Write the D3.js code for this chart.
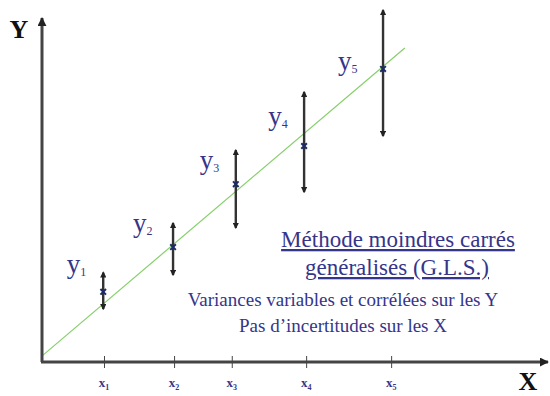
<html>
<head>
  <meta charset="utf-8">
  <title>Méthode moindres carrés généralisés</title>
  <style>
    body { margin: 0; background: #fff; }
    svg { display: block; }
  </style>
  <script src="https://cdnjs.cloudflare.com/ajax/libs/d3/7.8.5/d3.min.js"></script>
</head>
<body>
  <div id="chart"></div>
  <script>
    // data (arbitrary units, 0-100 on both axes)
    const tickValues = [12.25, 26.1, 37.5, 52.2, 69.0];
    const tickLabels = ["1", "2", "3", "4", "5"];
    const pointX = [12.1, 25.9, 38.3, 51.8, 67.4];
    const yCentre = [20.4, 33.4, 51.7, 62.8, 85.2];
    const yLow = [15.4, 25.3, 39.0, 49.4, 65.7];
    const yHigh = [26.0, 40.4, 61.6, 78.5, 102.3];
    const pointNames = ["1", "2", "3", "4", "5"];
    const labelX = [4.9, 18.0, 31.2, 44.7, 58.5];
    const labelY = [25.9, 37.8, 56.1, 68.9, 84.9];
    const fitX = [0.2, 71.7];
    const fitY = [2.0, 91.3];

    const width = 550, height = 396;
    const blue = '#35358a';
    const serif = '"Liberation Serif", "Times New Roman", serif';

    const x = d3.scaleLinear().domain([0, 100]).range([42, 548]);
    const y = d3.scaleLinear().domain([0, 100]).range([362, 18]);

    const svg = d3.select('#chart')
      .append('svg')
        .attr('width', width)
        .attr('height', height)
        .style('font-family', serif);

    // arrowheads
    const defs = svg.append('defs');
    defs.append('marker')
        .attr('id', 'axisArrow')
        .attr('viewBox', '0 0 10 10')
        .attr('refX', 9).attr('refY', 5)
        .attr('markerWidth', 3).attr('markerHeight', 3)
        .attr('orient', 'auto')
      .append('path')
        .attr('d', 'M0,0 L10,5 L0,10 z')
        .attr('fill', '#222');
    defs.append('marker')
        .attr('id', 'barArrow')
        .attr('viewBox', '0 0 10 10')
        .attr('refX', 8).attr('refY', 5)
        .attr('markerWidth', 2.6).attr('markerHeight', 2.6)
        .attr('orient', 'auto-start-reverse')
      .append('path')
        .attr('d', 'M0,0 L10,5 L0,10 z')
        .attr('fill', '#222');

    // fitted line
    svg.append('line')
      .attr('x1', x(fitX[0])).attr('y1', y(fitY[0]))
      .attr('x2', x(fitX[1])).attr('y2', y(fitY[1]))
      .attr('stroke', '#86cf6a')
      .attr('stroke-width', 1.2);

    // axes
    svg.append('line')
      .attr('x1', x(0)).attr('y1', y(0))
      .attr('x2', x(0)).attr('y2', y(100))
      .attr('stroke', '#444').attr('stroke-width', 3)
      .attr('marker-end', 'url(#axisArrow)');

    const xAxis = svg.append('g')
      .attr('transform', `translate(0,${y(0)})`)
      .call(d3.axisBottom(x).tickValues(tickValues).tickSize(6).tickFormat(''));
    xAxis.select('.domain').remove();
    xAxis.selectAll('.tick line')
      .attr('y1', -6).attr('y2', 6)
      .attr('stroke', '#444').attr('stroke-width', 1);

    svg.append('line')
      .attr('x1', x(0) - 1).attr('y1', y(0))
      .attr('x2', x(100)).attr('y2', y(0))
      .attr('stroke', '#444').attr('stroke-width', 3)
      .attr('marker-end', 'url(#axisArrow)');

    // tick labels x1..x5
    const tl = svg.selectAll('.xlab')
      .data(tickValues)
      .join('text')
        .attr('class', 'xlab')
        .attr('x', d => x(d))
        .attr('y', y(0) + 25)
        .attr('text-anchor', 'middle')
        .attr('fill', blue)
        .style('font-weight', 'bold')
        .style('font-size', '13px');
    tl.append('tspan').text('x');
    tl.append('tspan')
      .attr('dy', 3)
      .style('font-size', '8px')
      .text((d, i) => tickLabels[i]);

    // axis titles
    svg.append('text')
      .attr('x', 19).attr('y', 38)
      .attr('text-anchor', 'middle')
      .style('font-size', '26px').style('font-weight', 'bold')
      .attr('fill', '#111')
      .text('Y');
    svg.append('text')
      .attr('x', 528).attr('y', 390)
      .attr('text-anchor', 'middle')
      .style('font-size', '26px').style('font-weight', 'bold')
      .attr('fill', '#111')
      .text('X');

    // error bars
    svg.selectAll('.bar')
      .data(pointX)
      .join('line')
        .attr('class', 'bar')
        .attr('x1', d => x(d)).attr('x2', d => x(d))
        .attr('y1', (d, i) => y(yLow[i])).attr('y2', (d, i) => y(yHigh[i]))
        .attr('stroke', '#333')
        .attr('stroke-width', 2.4)
        .attr('marker-start', 'url(#barArrow)')
        .attr('marker-end', 'url(#barArrow)');

    // measured points
    svg.selectAll('.pt')
      .data(pointX)
      .join('path')
        .attr('class', 'pt')
        .attr('transform', (d, i) => `translate(${x(d)},${y(yCentre[i])})`)
        .attr('d', d3.symbol().type(d3.symbolTimes).size(22))
        .attr('stroke', '#1b2a66')
        .attr('stroke-width', 2)
        .attr('fill', 'none');

    // point labels y1..y5
    const pl = svg.selectAll('.ylab')
      .data(labelX)
      .join('text')
        .attr('class', 'ylab')
        .attr('x', d => x(d))
        .attr('y', (d, i) => y(labelY[i]))
        .attr('fill', blue)
        .style('font-size', '27px');
    pl.append('tspan').text('y');
    pl.append('tspan')
      .attr('dy', 3)
      .style('font-size', '12px')
      .text((d, i) => pointNames[i]);

    // annotation
    const note = svg.append('g').attr('fill', blue);
    note.append('text')
      .attr('x', 398).attr('y', 247)
      .attr('text-anchor', 'middle')
      .style('font-size', '23px')
      .style('text-decoration', 'underline')
      .text('Méthode moindres carrés');
    note.append('text')
      .attr('x', 397).attr('y', 275)
      .attr('text-anchor', 'middle')
      .style('font-size', '23px')
      .style('text-decoration', 'underline')
      .text('généralisés (G.L.S.)');
    note.append('text')
      .attr('x', 343).attr('y', 306)
      .attr('text-anchor', 'middle')
      .style('font-size', '19px')
      .text('Variances variables et corrélées sur les Y');
    note.append('text')
      .attr('x', 343).attr('y', 332)
      .attr('text-anchor', 'middle')
      .style('font-size', '19px')
      .text('Pas d\u2019incertitudes sur les X');
  </script>
</body>
</html>
